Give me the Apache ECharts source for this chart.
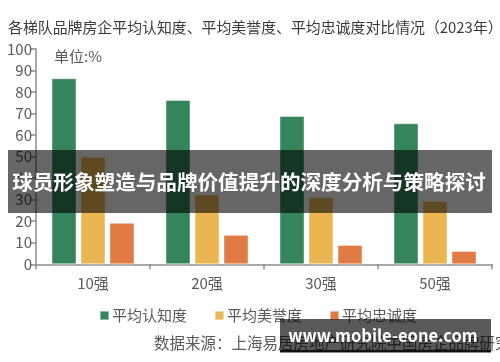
<!DOCTYPE html>
<html>
<head>
<meta charset="utf-8">
<script src="https://cdn.jsdelivr.net/npm/echarts@6/dist/echarts.min.js"></script>
<style>html,body{margin:0;padding:0;background:#fff;}#c{width:500px;height:362px;}</style>
</head>
<body>
<div id="c"></div>
<script>
var categories = ['10强', '20强', '30强', '50强'];
var seriesNames = ['平均认知度', '平均美誉度', '平均忠诚度'];
var recognition = [86.4, 76.3, 68.9, 65.5];
var reputation = [50.0, 32.4, 31.1, 29.4];
var loyalty = [19.3, 13.7, 9.0, 6.2];
var yTicks = [0, 100, 10];

var FONT = '"Noto Sans CJK SC", "Noto Sans", sans-serif';
var colors = ['#36845c', '#ebb652', '#e27a43'];
var chart = echarts.init(document.getElementById('c'), null, {renderer: 'canvas'});

var values = [recognition, reputation, loyalty];
var series = seriesNames.map(function (n, i) {
  return {
    name: n, type: 'bar', data: values[i], barWidth: 25, barGap: '16%',
    itemStyle: {color: colors[i], borderColor: 'rgba(255,255,255,0.45)', borderWidth: 1},
    z: 2
  };
});

chart.setOption({
  animation: false,
  textStyle: {fontFamily: FONT},
  title: [
    {text: '各梯队品牌房企平均认知度、平均美誉度、平均忠诚度对比情况（2023年）', left: 3, top: 14,
     textStyle: {fontFamily: FONT, fontSize: 14.9, fontWeight: 'normal', color: '#3a3a3a', lineHeight: 17}},
    {text: '单位:%', left: 49, top: 42,
     textStyle: {fontFamily: FONT, fontSize: 15, fontWeight: 'normal', color: '#595959', lineHeight: 18}},
    {text: '数据来源：上海易居房地产研究院中国房企品牌研究中心', left: 149, top: 329,
     textStyle: {fontFamily: FONT, fontSize: 15.5, fontWeight: 'normal', color: '#595959', lineHeight: 18}}
  ],
  legend: {
    data: seriesNames, left: 94, top: 303, itemWidth: 9, itemHeight: 9, itemGap: 27,
    icon: 'rect',
    textStyle: {fontFamily: FONT, fontSize: 15, color: '#595959', padding: [0, 0, 0, -2]}
  },
  grid: {left: 36, right: 8, top: 49, bottom: 97.7, containLabel: false},
  xAxis: {
    type: 'category', data: categories,
    axisLine: {lineStyle: {color: '#8c8c8c', width: 1.5}},
    axisTick: {show: true, alignWithLabel: false, length: 5, lineStyle: {color: '#8c8c8c', width: 1.5}},
    axisLabel: {fontFamily: FONT, fontSize: 15, color: '#595959', margin: 11}
  },
  yAxis: {
    type: 'value', min: yTicks[0], max: yTicks[1], interval: yTicks[2],
    axisLine: {show: true, lineStyle: {color: '#8c8c8c', width: 1.5}},
    axisTick: {show: true, length: 5, lineStyle: {color: '#8c8c8c', width: 1.5}},
    axisLabel: {fontFamily: FONT, fontSize: 15, color: '#595959', margin: 4},
    splitLine: {show: false}
  },
  series: series,
  graphic: [
    {type: 'rect', z: 100, shape: {x: 8, y: 150, width: 484, height: 63},
     style: {fill: 'rgba(0,0,0,0.6)'}},
    {type: 'text', z: 101, x: 249, y: 182,
     style: {text: '球员形象塑造与品牌价值提升的深度分析与策略探讨', fill: '#ffffff',
       font: 'bold 20.6px ' + FONT, textAlign: 'center', textVerticalAlign: 'middle'}},
    {type: 'rect', z: 100, shape: {x: 280, y: 319, width: 211, height: 32},
     style: {fill: 'rgba(0,0,0,0.65)'}},
    {type: 'rect', z: 100, shape: {x: 280, y: 350, width: 211, height: 2.5},
     style: {fill: '#111111'}},
    {type: 'text', z: 101, x: 383, y: 336,
     style: {text: 'www.mobile-eone.com', fill: '#ffffff',
       font: 'bold 16.5px ' + FONT, textAlign: 'center', textVerticalAlign: 'middle'}}
  ]
});
</script>
</body>
</html>
